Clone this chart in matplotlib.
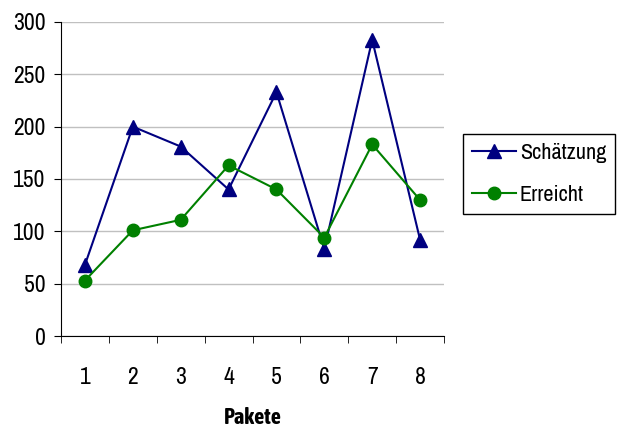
import matplotlib
matplotlib.use("Agg")
import logging
logging.getLogger('matplotlib.font_manager').setLevel(logging.ERROR)
import matplotlib.pyplot as plt
from matplotlib.ticker import FixedLocator

plt.rcParams['font.family'] = ['Liberation Sans Narrow', 'Arial Narrow', 'Archivo Narrow',
                               'PT Sans Narrow', 'Roboto Condensed', 'Pragati Narrow',
                               'Asap Condensed', 'DejaVu Sans']

categories = ["1", "2", "3", "4", "5", "6", "7", "8"]
schaetzung = [68, 200, 181, 140, 233, 83, 283, 92]
erreicht = [53, 101, 111, 163, 140, 94, 183, 130]
yticks = [0, 50, 100, 150, 200, 250, 300]

fig = plt.figure(figsize=(6.17, 4.37), dpi=100)
ax = fig.add_axes([0.0989, 0.2311, 0.6207, 0.7186])

x = list(range(1, len(categories) + 1))
ax.plot(x, schaetzung, color='#000080', marker='^', markersize=10, linewidth=1.5, label='Schätzung')
ax.plot(x, erreicht, color='#008000', marker='o', markersize=9, linewidth=1.5, label='Erreicht')

ax.set_xlim(0.5, len(categories) + 0.5)
ax.set_ylim(0, 300)
ax.set_yticks(yticks)
ax.set_yticklabels([str(v) for v in yticks], fontsize=17)
ax.set_xticks(x)
ax.set_xticklabels(categories, fontsize=17)
ax.tick_params(axis='x', which='major', length=0, pad=22)
ax.xaxis.set_minor_locator(FixedLocator([i + 0.5 for i in range(len(categories) + 1)]))
ax.tick_params(axis='x', which='minor', length=5, direction='out', color='black')
ax.tick_params(axis='y', length=5, direction='out', pad=6)
ax.grid(axis='y', color='#c0c0c0', linewidth=1)
ax.set_axisbelow(True)
for s in ['top', 'right']:
    ax.spines[s].set_visible(False)

ax.set_xlabel('Pakete', fontsize=16, fontweight='bold', labelpad=14,
              family=['Asap Condensed', 'Roboto Condensed', 'DejaVu Sans'])

leg = ax.legend(loc='center left', bbox_to_anchor=(1.05, 0.516), fontsize=16, frameon=True,
                fancybox=False, edgecolor='black', framealpha=1, handlelength=2.0,
                borderpad=0.4, labelspacing=1.0, handletextpad=0.15, borderaxespad=0)
leg.get_frame().set_linewidth(1)

fig.savefig('out.png', dpi=100)
